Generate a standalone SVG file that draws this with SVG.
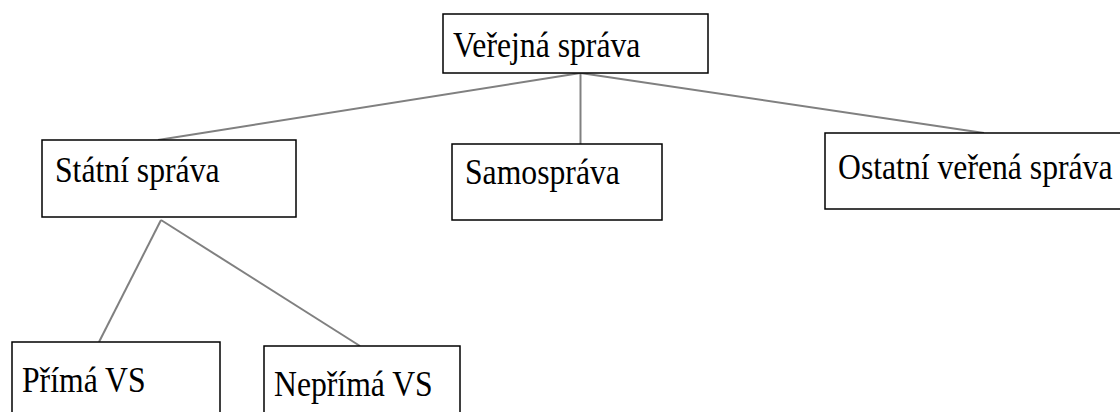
<svg xmlns="http://www.w3.org/2000/svg" width="1120" height="412" viewBox="0 0 1120 412">
<style>
.box{fill:#fff;stroke:#000;stroke-width:1.5}
.con{stroke:#808080;stroke-width:2;fill:none}
text{font-family:'Liberation Serif','Times New Roman',serif;font-size:31.7px;fill:#000}
</style>
<rect width="1120" height="412" fill="#fff"/>
<g id="connectors">
<line class="con" x1="580.5" y1="73" x2="158" y2="140"/>
<line class="con" x1="580.5" y1="73" x2="580.5" y2="144"/>
<line class="con" x1="580.5" y1="73" x2="984" y2="133"/>
<line class="con" x1="161" y1="220" x2="99" y2="342"/>
<line class="con" x1="161" y1="220" x2="360" y2="346"/>
</g>
<g id="verejna"><rect class="box" x="443" y="14" width="265" height="59"/><text transform="translate(453 57) scale(1 1.1)">Veřejná správa</text></g>
<g id="statni"><rect class="box" x="42" y="140" width="254" height="77"/><text transform="translate(55 182) scale(1 1.1)">Státní správa</text></g>
<g id="samosprava"><rect class="box" x="452" y="144" width="210" height="76"/><text transform="translate(465 184) scale(1 1.1)">Samospráva</text></g>
<g id="ostatni"><rect class="box" x="825" y="133" width="300" height="76"/><text transform="translate(838 179) scale(1 1.1)">Ostatní veřená správa</text></g>
<g id="prima"><rect class="box" x="12" y="342" width="208" height="80"/><text transform="translate(22 392) scale(1 1.1)">Přímá VS</text></g>
<g id="neprima"><rect class="box" x="264" y="346" width="196" height="80"/><text transform="translate(274 396) scale(1 1.1)">Nepřímá VS</text></g>
</svg>
